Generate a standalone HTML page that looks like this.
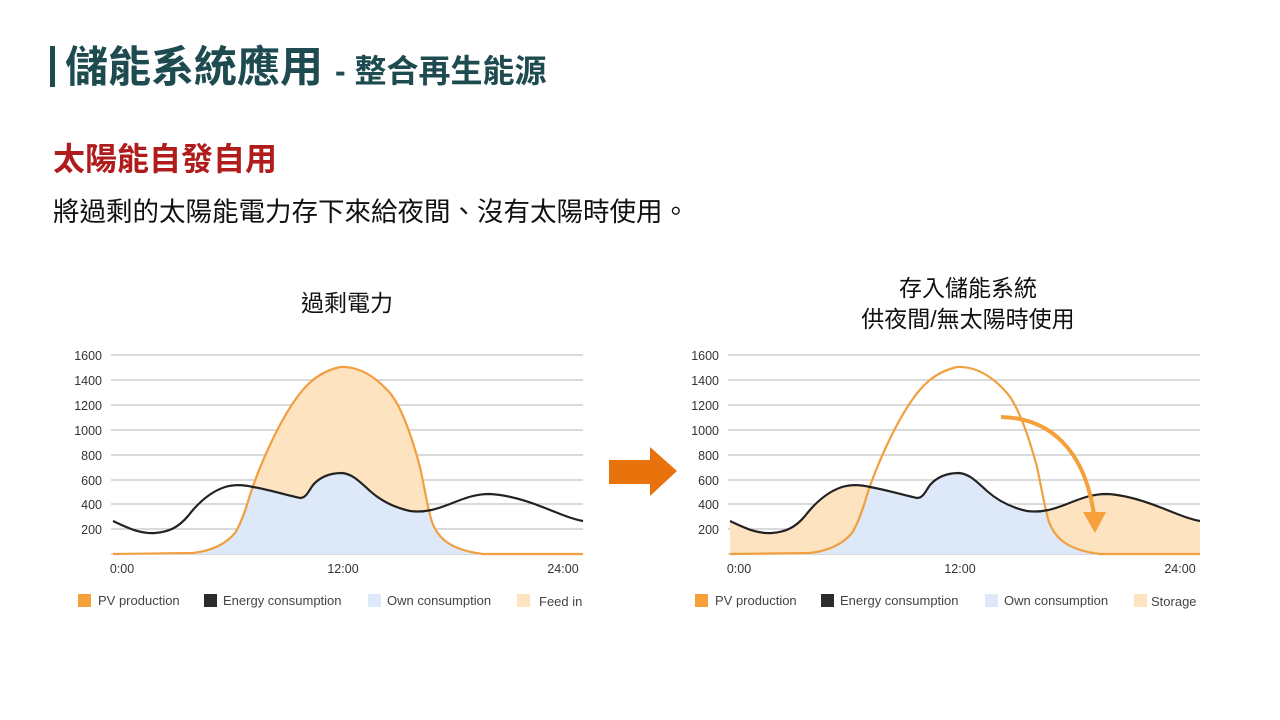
<!DOCTYPE html>
<html><head><meta charset="utf-8"><style>
body{margin:0;width:1280px;height:720px;background:#fff;overflow:hidden;font-family:"Liberation Sans","Noto Sans CJK TC",sans-serif;position:relative}
.a{position:absolute;white-space:nowrap}
</style></head><body>
<div class="a" style="left:50px;top:46px;width:5px;height:41px;background:#1e4b50"></div>
<div class="a" style="left:65px;top:38px;font-size:43px;font-weight:bold;color:#1e4b50;line-height:60px">儲能系統應用 <span style="font-size:32px">- 整合再生能源</span></div>
<div class="a" style="left:53px;top:138px;font-size:32px;font-weight:bold;color:#b01c1c;line-height:42px">太陽能自發自用</div>
<div class="a" style="left:53px;top:193px;font-size:26.5px;color:#111;line-height:38px">將過剩的太陽能電力存下來給夜間、沒有太陽時使用。</div>
<div class="a" style="left:247px;top:287px;width:200px;text-align:center;font-size:23px;color:#111;line-height:32px">過剩電力</div>
<div class="a" style="left:818px;top:273px;width:300px;text-align:center;font-size:23px;color:#111;line-height:31px">存入儲能系統<br>供夜間/無太陽時使用</div>
<svg class="a" style="left:0;top:0" width="1280" height="720" font-family="Liberation Sans, sans-serif">
<defs>
<path id="pv" d="M113,554 L193,553 C210,551 225,545 235,533 C242,522 247,505 250,495 C258,470 275,430 293,403 C305,385 318,372 340,367 C358,366 375,376 390,393 C400,405 410,430 420,467 C425,490 428,510 432,522 C438,538 450,550 483,554 L583,554"/>
<path id="ec" d="M113,521 C128,528 140,534 155,533 C168,532 178,528 188,516 C198,503 210,492 225,487 C235,484 245,485 253,487 C270,490 290,496 300,498 C306,498 308,492 313,485 C320,477 330,473 342,473 C352,474 358,480 370,491 C380,500 392,507 410,511 C425,513 437,509 450,504 C465,498 475,494 490,494 C510,495 530,502 545,508 C560,514 572,519 583,521"/>
<clipPath id="pvc"><path d="M113,554 L193,553 C210,551 225,545 235,533 C242,522 247,505 250,495 C258,470 275,430 293,403 C305,385 318,372 340,367 C358,366 375,376 390,393 C400,405 410,430 420,467 C425,490 428,510 432,522 C438,538 450,550 483,554 L583,554 Z"/></clipPath>
</defs>
<g id="chart">
<g stroke="#c4c4c4" stroke-width="1.2">
<line x1="111" x2="583" y1="355" y2="355"/><line x1="111" x2="583" y1="380" y2="380"/><line x1="111" x2="583" y1="405" y2="405"/><line x1="111" x2="583" y1="430" y2="430"/><line x1="111" x2="583" y1="455" y2="455"/><line x1="111" x2="583" y1="480" y2="480"/><line x1="111" x2="583" y1="504" y2="504"/><line x1="111" x2="583" y1="529" y2="529"/><line x1="111" x2="583" y1="554" y2="554"/>
</g>
<g font-size="12.5" fill="#333" text-anchor="end">
<text x="102" y="360">1600</text><text x="102" y="385">1400</text><text x="102" y="410">1200</text><text x="102" y="435">1000</text><text x="102" y="460">800</text><text x="102" y="485">600</text><text x="102" y="509">400</text><text x="102" y="534">200</text>
</g>
<g font-size="12.5" fill="#333" text-anchor="middle"><text x="122" y="573">0:00</text><text x="343" y="573">12:00</text><text x="563" y="573">24:00</text></g>
<g font-size="13" fill="#444">
<rect x="78" y="594" width="13" height="13" fill="#f5a03a"/><text x="98" y="605">PV production</text>
<rect x="204" y="594" width="13" height="13" fill="#2b2b2b"/><text x="223" y="605">Energy consumption</text>
<rect x="368" y="594" width="13" height="13" fill="#dde9f8"/><text x="387" y="605">Own consumption</text>
<rect x="517" y="594" width="13" height="13" fill="#fde3c0"/>
</g>
</g>
<use href="#pv" fill="#fde3c0"/>
<path d="M113,521 C128,528 140,534 155,533 C168,532 178,528 188,516 C198,503 210,492 225,487 C235,484 245,485 253,487 C270,490 290,496 300,498 C306,498 308,492 313,485 C320,477 330,473 342,473 C352,474 358,480 370,491 C380,500 392,507 410,511 C425,513 437,509 450,504 C465,498 475,494 490,494 C510,495 530,502 545,508 C560,514 572,519 583,521 L583,554 L113,554Z" fill="#dde9f8" clip-path="url(#pvc)"/>
<use href="#pv" fill="none" stroke="#f0a040" stroke-width="2.2"/>
<use href="#ec" fill="none" stroke="#222" stroke-width="2.2"/>
<text x="539" y="606" font-size="13" fill="#444">Feed in</text>
<g transform="translate(617,0)">
<use href="#chart"/>
<path d="M113,521 C128,528 140,534 155,533 C168,532 178,528 188,516 C198,503 210,492 225,487 C235,484 245,485 253,487 C270,490 290,496 300,498 C306,498 308,492 313,485 C320,477 330,473 342,473 C352,474 358,480 370,491 C380,500 392,507 410,511 C425,513 437,509 450,504 C465,498 475,494 490,494 C510,495 530,502 545,508 C560,514 572,519 583,521 L583,554 L113,554Z" fill="#fde3c0"/>
<path d="M113,521 C128,528 140,534 155,533 C168,532 178,528 188,516 C198,503 210,492 225,487 C235,484 245,485 253,487 C270,490 290,496 300,498 C306,498 308,492 313,485 C320,477 330,473 342,473 C352,474 358,480 370,491 C380,500 392,507 410,511 C425,513 437,509 450,504 C465,498 475,494 490,494 C510,495 530,502 545,508 C560,514 572,519 583,521 L583,554 L113,554Z" fill="#dde9f8" clip-path="url(#pvc)"/>
<use href="#pv" fill="none" stroke="#f0a040" stroke-width="2.2"/>
<use href="#ec" fill="none" stroke="#222" stroke-width="2.2"/>
<text x="534" y="606" font-size="13" fill="#444">Storage</text>
</g>
<path d="M1001,417 C1050,418 1085,450 1094,515" fill="none" stroke="#f5a03a" stroke-width="4"/>
<polygon points="1083,512 1106,512 1095,533" fill="#f5a03a"/>
<polygon points="609,460 650,460 650,447 677,471 650,496 650,484 609,484" fill="#e8720c"/>
</svg>
</body></html>
